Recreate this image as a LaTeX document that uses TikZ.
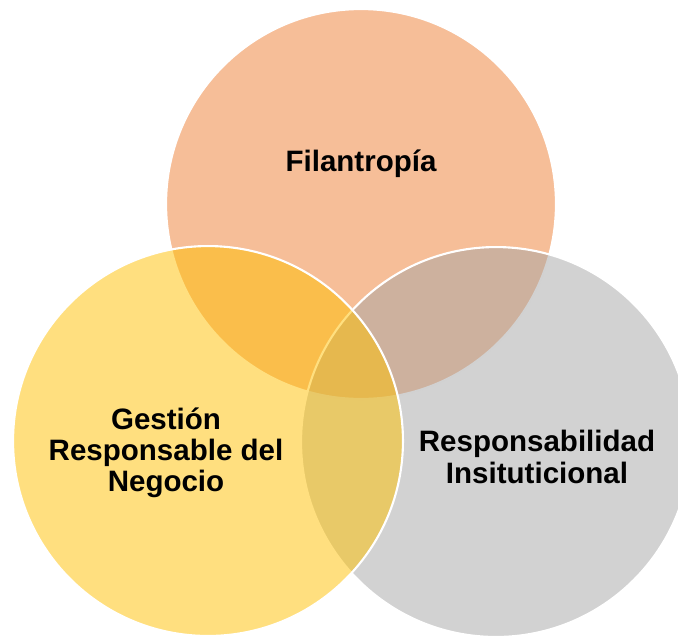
\documentclass[tikz,border=0pt]{standalone}
\usepackage{fontspec}
\setmainfont{Liberation Sans}
\definecolor{filorange}{RGB}{237,125,49}
\definecolor{resgray}{RGB}{165,165,165}
\definecolor{gesyellow}{RGB}{255,192,0}
\begin{document}
\begin{tikzpicture}[x=0.02cm, y=-0.02cm,
	venn/.style = {circle, draw=white, line width=1.2pt, fill opacity=0.5, minimum size=7.8cm, inner sep=0pt},
	lbl/.style = {font=\bfseries\fontsize{16.8}{17.8}\selectfont, align=center, text=black}]
	
	\useasboundingbox (0,0) rectangle (678,637);
	
	\begin{scope}
		\clip (0,0) rectangle (678,637);
		\node[venn, fill=filorange] (fil) at (361,204) {};
		\node[venn, fill=resgray] (res) at (496,442) {};
		\node[venn, fill=gesyellow] (ges) at (208,441) {};
	\end{scope}
	
	\node[lbl] (fil text) at (361,164) {Filantropía};
	\node[lbl] (ges text) at (166,453) {Gestión\\Responsable del\\Negocio};
	\node[lbl] (res text) at (537,457) {Responsabilidad\\Insituticional};
	
\end{tikzpicture}
\end{document}
